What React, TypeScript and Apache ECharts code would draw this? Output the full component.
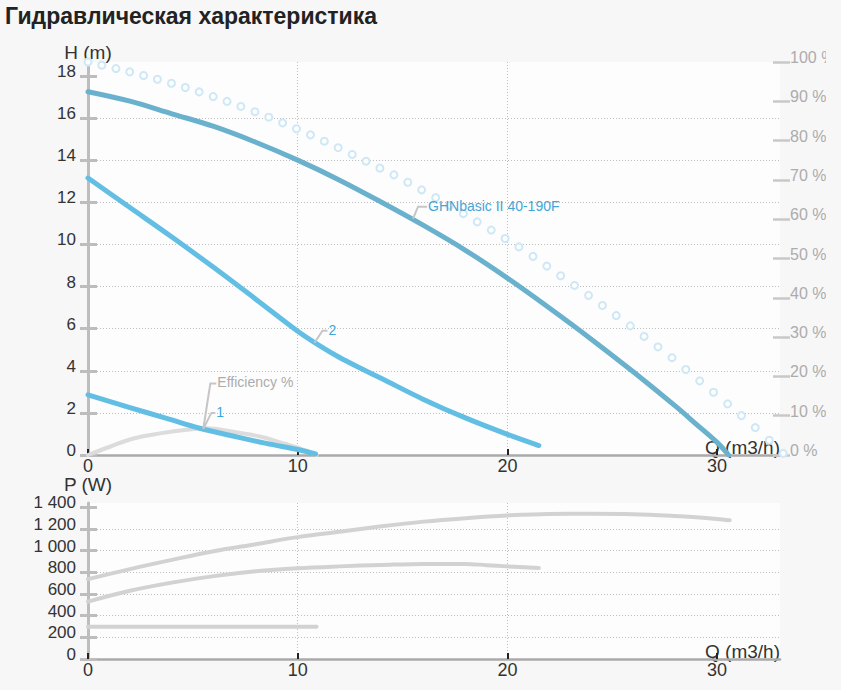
import React, { useEffect, useRef } from "react";
import * as echarts from "echarts";

const TITLE = "Гидравлическая характеристика";
const FONT = "'Liberation Sans', Arial, Helvetica, sans-serif";

// Axis ticks
const Q_TICKS = [0, 10, 20, 30];
const H_TICKS = [0, 2, 4, 6, 8, 10, 12, 14, 16, 18];
const EFF_TICKS = [0, 10, 20, 30, 40, 50, 60, 70, 80, 90, 100];
const P_TICKS = [0, 200, 400, 600, 800, 1000, 1200, 1400];

// Pump curve GHNbasic II 40-190F (Q m3/h, H m)
const pumpQ = [0, 2, 4, 6, 8, 10, 12, 14, 16, 18, 20, 22, 24, 26, 28, 29, 30, 30.55];
const pumpH = [17.25, 16.8, 16.2, 15.6, 14.85, 14.0, 13.05, 12.0, 10.9, 9.72, 8.4, 6.98, 5.5, 3.95, 2.33, 1.47, 0.6, 0.0];

// Curve "2"
const curve2Q = [0, 2, 4, 6, 8, 10, 11, 12, 13, 14, 16, 18, 20, 21.5];
const curve2H = [13.15, 11.75, 10.35, 8.9, 7.4, 5.88, 5.22, 4.63, 4.12, 3.63, 2.64, 1.76, 0.98, 0.45];

// Curve "1"
const curve1Q = [0, 2, 3.75, 5.33, 6.92, 8.5, 10.1, 10.85];
const curve1H = [2.86, 2.25, 1.74, 1.27, 0.9, 0.55, 0.24, 0.05];

// Efficiency (%)
const effQ = [0, 1.04, 2.16, 3.43, 4.7, 5.65, 6.92, 8.19, 9.3, 10.1, 10.9];
const effPct = [0, 2.1, 4.2, 5.5, 6.4, 6.8, 5.9, 4.7, 3.0, 1.7, 0];

// Max curve (ring markers)
const maxQ = [
  0, 0.66, 1.33, 1.99, 2.65, 3.31, 3.98, 4.64, 5.3, 5.97, 6.63, 7.29, 7.96, 8.62, 9.28, 9.94, 10.61,
  11.27, 11.93, 12.6, 13.26, 13.92, 14.59, 15.25, 15.91, 16.58, 17.24, 17.9, 18.56, 19.23, 19.89,
  20.55, 21.22, 21.88, 22.54, 23.2, 23.87, 24.53, 25.19, 25.86, 26.52, 27.18, 27.85, 28.51, 29.17,
  29.83, 30.5, 31.16, 31.82, 32.49, 33.15,
];
const maxH = [
  18.66, 18.51, 18.35, 18.19, 18.02, 17.84, 17.65, 17.45, 17.24, 17.02, 16.79, 16.55, 16.3, 16.04,
  15.77, 15.49, 15.2, 14.9, 14.59, 14.27, 13.95, 13.62, 13.3, 12.95, 12.59, 12.22, 11.85, 11.46,
  11.07, 10.68, 10.28, 9.88, 9.43, 8.97, 8.51, 8.05, 7.58, 7.1, 6.62, 6.13, 5.63, 5.13, 4.62, 4.06,
  3.52, 2.98, 2.43, 1.87, 1.3, 0.7, 0.08,
];

// Power (W)
const powerPumpQ = [0, 2, 4, 6, 8, 10, 12, 14, 16, 18, 20, 22, 24, 26, 28, 29, 30, 30.6];
const powerPumpP = [737, 830, 915, 995, 1060, 1125, 1175, 1225, 1268, 1300, 1325, 1339, 1340, 1336, 1320, 1308, 1292, 1280];
const power2Q = [0, 2, 4, 6, 8, 10, 12, 14, 16, 18, 19, 20, 21.5];
const power2P = [530, 630, 705, 765, 810, 838, 855, 868, 878, 878, 866, 855, 840];
const power1Q = [0, 5, 10.9];
const power1P = [298, 298, 298];

// Curve labels
const curveLabelNames = ["GHNbasic II 40-190F", "2", "1"];
const curveLabelQ = [15.5, 10.8, 5.5];
const curveLabelH = [11.22, 5.33, 1.24];
const effLabelNames = ["Efficiency %"];
const effLabelQ = [5.5];
const effLabelPct = [6.75];

const pairs = (xs: number[], ys: number[]) => xs.map((x, i) => [x, ys[i]]);

const CURVE_LABEL_LAYOUT = [
  { dx1: 5, dy1: -12, dx2: 14, color: "#45a6d6" },
  { dx1: 8, dy1: -12, dx2: 13, color: "#35a8de" },
  { dx1: 8, dy1: -16, dx2: 12, color: "#35a8de" },
];
const EFF_LABEL_LAYOUT = [{ dx1: 7, dy1: -45, dx2: 13, color: "#acacac" }];

const makeLabelRenderer = (layouts: any[], names: string[]) => (params: any, api: any) => {
  const i = api.value(2);
  const p = api.coord([api.value(0), api.value(1)]);
  const s = layouts[i];
  const ex = p[0] + s.dx2;
  const ey = p[1] + s.dy1;
  return {
    type: "group",
    children: [
      {
        type: "polyline",
        shape: { points: [[p[0], p[1]], [p[0] + s.dx1, ey], [ex, ey]] },
        style: { stroke: "#c6c6c6", lineWidth: 2, fill: null },
      },
      {
        type: "text",
        x: ex + 1,
        y: ey - 1,
        style: {
          text: names[i],
          fill: s.color,
          fontSize: 14,
          fontFamily: FONT,
          verticalAlign: "middle",
          align: "left",
        },
      },
    ],
  };
};

const fmtThousands = (v: number) =>
  v >= 1000 ? `${Math.floor(v / 1000)} ${String(v % 1000).padStart(3, "0")}` : String(v);

const gridLine = { color: "#bdbdbd", width: 1, type: [1, 2] };

const xAxisFor = (gridIndex: number) => ({
  type: "value",
  gridIndex,
  min: 0,
  max: 33,
  interval: 10,
  name: "Q (m3/h)",
  nameLocation: "end",
  nameGap: 0,
  nameTextStyle: {
    fontSize: 19,
    color: "#333",
    fontFamily: FONT,
    align: "right",
    verticalAlign: "bottom",
    lineHeight: 16,
  },
  axisLine: { show: true, onZero: false, lineStyle: { color: "#aaaaaa", width: 2.5 } },
  axisTick: { show: true, inside: true, length: 6, customValues: Q_TICKS, lineStyle: { color: "#222", width: 2 } },
  axisLabel: { customValues: Q_TICKS, margin: 2, fontSize: 18, color: "#333", fontFamily: FONT },
  splitLine: { show: true, showMinLine: false, showMaxLine: false, lineStyle: gridLine },
});

const leftAxis = (gridIndex: number, max: number, interval: number, ticks: number[], name: string, formatter?: any) => ({
  type: "value",
  gridIndex,
  position: "left",
  min: 0,
  max,
  interval,
  name,
  nameLocation: "end",
  nameGap: 0,
  nameTextStyle: { fontSize: 19, color: "#333", fontFamily: FONT },
  axisLine: { show: true, onZero: false, lineStyle: { color: "#bdbdbd", width: 3 } },
  axisTick: { show: true, length: 8, customValues: ticks, lineStyle: { color: "#bdbdbd", width: 3 } },
  axisLabel: {
    customValues: ticks,
    margin: 12,
    fontSize: 17,
    color: "#333",
    fontFamily: FONT,
    formatter,
    verticalAlign: "bottom",
    lineHeight: 9,
  },
  splitLine: { show: true, showMinLine: false, showMaxLine: false, lineStyle: gridLine },
});

const tickAxis = (gridIndex: number, position: string, max: number, interval: number, ticks: number[], length: number, color: string, width: number) => ({
  type: "value",
  gridIndex,
  position,
  min: 0,
  max,
  interval,
  axisLine: { show: false, onZero: false },
  axisLabel: { show: false },
  splitLine: { show: false },
  axisTick: { show: true, inside: true, length, customValues: ticks, lineStyle: { color, width } },
});

const curveLine = (name: string, data: number[][], color: string, width: number, xi: number, yi: number, z: number) => ({
  name,
  type: "line",
  xAxisIndex: xi,
  yAxisIndex: yi,
  data,
  showSymbol: false,
  smooth: 0.35,
  lineStyle: { color, width, cap: "round", join: "round" },
  silent: true,
  z,
});

export default function App() {
  const ref = useRef<HTMLDivElement>(null);

  useEffect(() => {
    if (!ref.current) return;
    const chart = echarts.init(ref.current, undefined, { renderer: "svg" });
    const H_MAX = 18.66;
    const P_MAX = 1440;
    chart.setOption({
      animation: false,
      backgroundColor: "transparent",
      textStyle: { fontFamily: FONT },
      title: {
        text: TITLE,
        left: 5,
        top: 4,
        padding: 0,
        textStyle: { fontSize: 23, fontWeight: "bold", color: "#222", fontFamily: FONT },
      },
      grid: [
        { left: 88, top: 62, width: 692, height: 393, show: true, backgroundColor: "#fdfdfd", borderWidth: 0, containLabel: false, outerBoundsMode: "none" },
        { left: 88, top: 503, width: 692, height: 156, show: true, backgroundColor: "#fdfdfd", borderWidth: 0, containLabel: false, outerBoundsMode: "none" },
      ],
      xAxis: [xAxisFor(0), xAxisFor(1)],
      yAxis: [
        leftAxis(0, H_MAX, 2, H_TICKS, "H (m)"),
        tickAxis(0, "left", H_MAX, 2, H_TICKS, 9, "#bdbdbd", 3),
        {
          type: "value",
          gridIndex: 0,
          position: "right",
          min: 0,
          max: 100,
          interval: 10,
          axisLine: { show: false, onZero: false },
          axisTick: { show: true, length: 10, customValues: EFF_TICKS, lineStyle: { color: "#c8c8c8", width: 2.5 } },
          axisLabel: {
            customValues: EFF_TICKS,
            margin: 10,
            fontSize: 16,
            color: "#acacac",
            fontFamily: FONT,
            formatter: "{value} %",
            verticalAlign: "bottom",
            lineHeight: 9,
          },
          splitLine: { show: false },
        },
        tickAxis(0, "right", 100, 10, EFF_TICKS, 7, "#c8c8c8", 2.5),
        leftAxis(1, P_MAX, 200, P_TICKS, "P (W)", fmtThousands),
        tickAxis(1, "left", P_MAX, 200, P_TICKS, 9, "#bdbdbd", 3),
      ],
      series: [
        {
          name: "max",
          type: "line",
          xAxisIndex: 0,
          yAxisIndex: 0,
          data: pairs(maxQ, maxH),
          symbol: "emptyCircle",
          symbolSize: 7,
          showSymbol: true,
          lineStyle: { width: 0, opacity: 0 },
          itemStyle: { color: "#cfe8f5", borderWidth: 2 },
          clip: false,
          silent: true,
          z: 2,
        },
        curveLine("Efficiency %", pairs(effQ, effPct), "#dcdcdc", 4, 0, 2, 3),
        curveLine("GHNbasic II 40-190F", pairs(pumpQ, pumpH), "#69b1cc", 5, 0, 0, 4),
        curveLine("2", pairs(curve2Q, curve2H), "#63bee4", 5, 0, 0, 4),
        curveLine("1", pairs(curve1Q, curve1H), "#63bee4", 5, 0, 0, 5),
        {
          name: "labels",
          type: "custom",
          xAxisIndex: 0,
          yAxisIndex: 0,
          data: curveLabelQ.map((q, i) => [q, curveLabelH[i], i]),
          renderItem: makeLabelRenderer(CURVE_LABEL_LAYOUT, curveLabelNames),
          clip: false,
          silent: true,
          z: 6,
        },
        {
          name: "effLabel",
          type: "custom",
          xAxisIndex: 0,
          yAxisIndex: 2,
          data: effLabelQ.map((q, i) => [q, effLabelPct[i], i]),
          renderItem: makeLabelRenderer(EFF_LABEL_LAYOUT, effLabelNames),
          clip: false,
          silent: true,
          z: 6,
        },
        curveLine("P pump", pairs(powerPumpQ, powerPumpP), "#d2d2d2", 4, 1, 4, 3),
        curveLine("P 2", pairs(power2Q, power2P), "#d2d2d2", 4, 1, 4, 3),
        curveLine("P 1", pairs(power1Q, power1P), "#d2d2d2", 4, 1, 4, 3),
      ],
    });
    return () => chart.dispose();
  }, []);

  return (
    <div
      style={{
        position: "fixed",
        left: 0,
        top: 0,
        width: 841,
        height: 690,
        background: "#f7f7f7",
        overflow: "hidden",
      }}
    >
      <div ref={ref} style={{ width: 826, height: 690, overflow: "hidden" }} />
    </div>
  );
}
